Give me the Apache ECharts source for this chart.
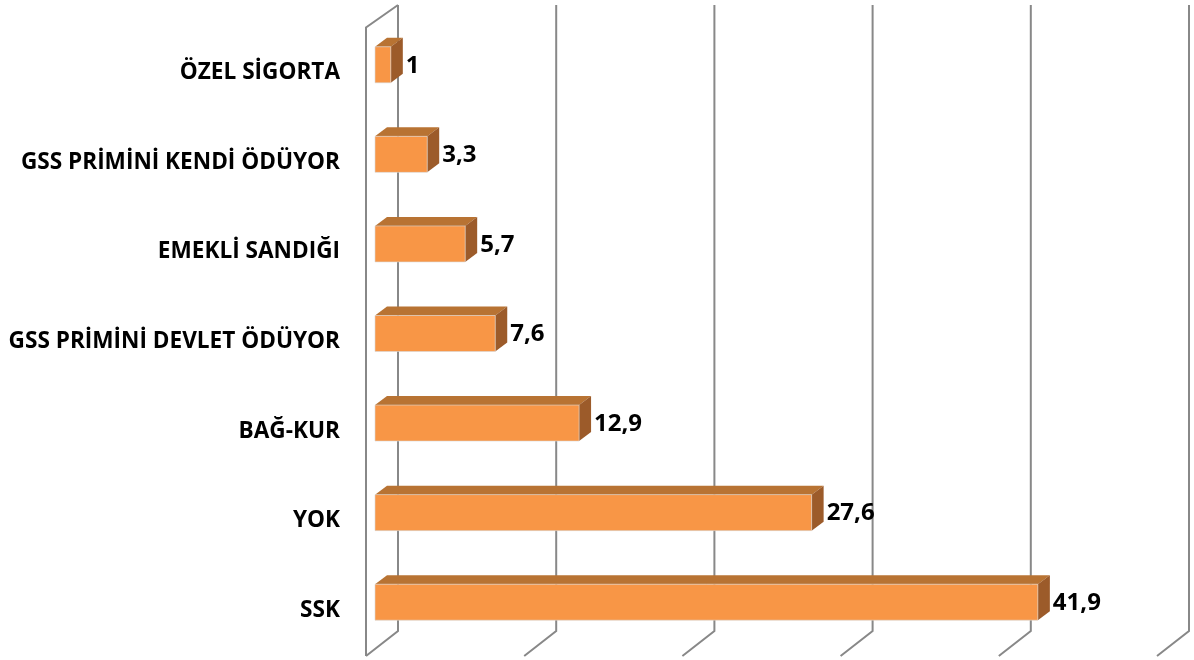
<!DOCTYPE html>
<html lang="tr">
<head>
    <meta charset="UTF-8" />
    <title>Sağlık güvencesi</title>
    <script src="https://cdn.jsdelivr.net/npm/echarts@6/dist/echarts.min.js"></script>
    <style>
        html, body { margin: 0; padding: 0; background: #fff; }
        #main { width: 1194px; height: 660px; }
    </style>
</head>
<body>
    <div id="main"></div>
<script>
    // kategoriler (alttan yukarı)
    var categories = ['SSK', 'YOK', 'BAĞ-KUR', 'GSS PRİMİNİ DEVLET ÖDÜYOR', 'EMEKLİ SANDIĞI', 'GSS PRİMİNİ KENDİ ÖDÜYOR', 'ÖZEL SİGORTA'];
    var values = [41.9, 27.6, 12.9, 7.6, 5.7, 3.3, 1];
    var ticks = [0, 10, 20, 30, 40, 50];

    var DX = 12, DY = 9;        // bar derinliği
    var WALL_DX = 23;           // arka duvar kayması
    var FLOOR_DX = 9;           // ön zemin kayması

    var myChart = echarts.init(document.getElementById('main'));

    var option = {
        animation: false,
        grid: { left: 375, right: 28, top: 20, bottom: 13 },
        xAxis: {
            type: 'value', min: 0, max: 50, interval: 10,
            show: false
        },
        yAxis: {
            type: 'category',
            data: categories,
            axisLine: { show: false },
            axisTick: { show: false },
            axisLabel: {
                margin: 35,
                verticalAlign: 'top',
                lineHeight: 16,
                color: '#000',
                fontFamily: 'Open Sans',
                fontWeight: 'bold',
                fontSize: 22.6
            }
        },
        series: [
            {
                // 3B duvar çizgileri
                type: 'custom',
                z: 1,
                silent: true,
                data: ticks.map(function (t) { return [t, 0]; }),
                renderItem: function (params, api) {
                    var cs = params.coordSys;
                    var x = api.coord([api.value(0), 0])[0] + WALL_DX;
                    var top = cs.y - 15, bot = cs.y + cs.height - 16;
                    var fx = x - WALL_DX - FLOOR_DX, fy = bot + (WALL_DX + FLOOR_DX) * 0.78;
                    var style = { stroke: '#888888', lineWidth: 2, fill: null };
                    var children = [
                        { type: 'polyline', shape: { points: [[x, top], [x, bot], [fx, fy]] }, style: style }
                    ];
                    if (params.dataIndex === 0) {
                        var ty = top + (WALL_DX + FLOOR_DX) * 0.7;
                        children.push({ type: 'polyline', shape: { points: [[fx, fy], [fx, ty], [x, top]] }, style: style });
                    }
                    return { type: 'group', children: children };
                }
            },
            {
                // 3B barlar
                type: 'custom',
                z: 2,
                data: values.map(function (v, i) { return [v, i]; }),
                encode: { x: 0, y: 1 },
                renderItem: function (params, api) {
                    var v = api.value(0);
                    var start = api.coord([0, api.value(1)]);
                    var end = api.coord([v, api.value(1)]);
                    var h = api.size([0, 1])[1] * 0.402;
                    var x0 = start[0], x1 = end[0];
                    var y0 = start[1] - h / 2, y1 = start[1] + h / 2;
                    return {
                        type: 'group',
                        children: [
                            {
                                type: 'polygon',
                                shape: { points: [[x0, y0], [x0 + DX, y0 - DY], [x1 + DX, y0 - DY], [x1, y0]] },
                                style: { fill: '#b87333' }
                            },
                            {
                                type: 'polygon',
                                shape: { points: [[x1, y0], [x1 + DX, y0 - DY], [x1 + DX, y1 - DY], [x1, y1]] },
                                style: { fill: '#9c5b2a' }
                            },
                            {
                                type: 'rect',
                                shape: { x: x0, y: y0, width: x1 - x0, height: h },
                                style: { fill: '#f89646', stroke: '#d9d9d9', lineWidth: 0.6 }
                            },
                            {
                                type: 'text',
                                style: {
                                    x: x1 + DX + 3, y: start[1] + 1,
                                    text: String(v).replace('.', ','),
                                    fill: '#000',
                                    fontFamily: 'Open Sans',
                                    fontWeight: 'bold',
                                    fontSize: 24,
                                    verticalAlign: 'middle',
                                    align: 'left'
                                }
                            }
                        ]
                    };
                }
            }
        ]
    };

    myChart.setOption(option);
</script>
</body>
</html>
